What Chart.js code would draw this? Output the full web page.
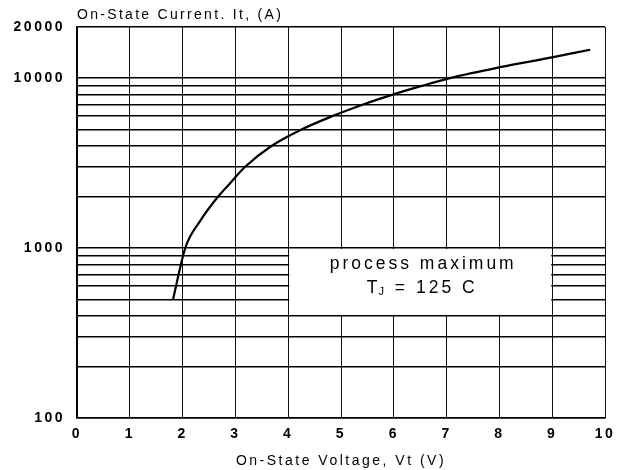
<!DOCTYPE html>
<html>
<head>
<meta charset="utf-8">
<script src="https://cdn.jsdelivr.net/npm/chart.js@4.4.0/dist/chart.umd.min.js"></script>
<style>
    html, body { margin: 0; padding: 0; background: #fff; }
    #wrap { width: 617px; height: 470px; }
</style>
</head>
<body>
<div id="wrap"><canvas id="ivChart"></canvas></div>
<script>
// on-state voltage (V) vs on-state current (A)
const voltage = [1.82, 2.05, 2.33, 2.65, 2.9, 3.18, 3.69, 4.26, 4.85, 5.42, 5.98, 6.53, 7.06, 8.01, 9.02, 9.72];
const current = [500, 1000, 1440, 1970, 2410, 3000, 4000, 5000, 6000, 7000, 8000, 9000, 10000, 11600, 13300, 14700];

const xTicks = [0, 1, 2, 3, 4, 5, 6, 7, 8, 9, 10];
const yTicks = [100, 200, 300, 400, 500, 600, 700, 800, 900,
    1000, 2000, 3000, 4000, 5000, 6000, 7000, 8000, 9000, 10000, 20000];
const yLabels = [100, 1000, 10000, 20000];

// white note box, in data units
const boxVolts = [4, 9];
const boxAmps = [400, 1000];
const boxLine1 = 'process maximum';
const boxLine2 = ['T', 'J', ' = 125 C'];

const yTitle = 'On-State Current. It, (A)';
const xTitle = 'On-State Voltage, Vt (V)';

const FONT = '"Liberation Sans", Arial, sans-serif';

const spacingPlugin = {
    id: 'spacing',
    beforeLayout(chart) { chart.ctx.letterSpacing = '2.5px'; },
    beforeDraw(chart) { chart.ctx.letterSpacing = '2.5px'; }
};

const notePlugin = {
    id: 'note',
    beforeDatasetsDraw(chart) {
        const ctx = chart.ctx;
        const x = chart.scales.x, y = chart.scales.y;
        const x1 = x.getPixelForValue(boxVolts[0]) + 1;
        const x2 = x.getPixelForValue(boxVolts[1]) - 1;
        const y1 = y.getPixelForValue(boxAmps[1]) + 1;
        const y2 = y.getPixelForValue(boxAmps[0]) - 1;
        ctx.save();
        ctx.fillStyle = '#fff';
        ctx.fillRect(x1, y1, x2 - x1, y2 - y1);

        const cx = (x1 + x2) / 2 + 3;
        ctx.fillStyle = '#000';
        ctx.letterSpacing = '3px';
        ctx.textBaseline = 'middle';
        ctx.textAlign = 'center';
        ctx.font = '17.5px ' + FONT;
        ctx.fillText(boxLine1, cx, y1 + 15);

        // T with subscript J
        ctx.textAlign = 'left';
        const big = '17.5px ' + FONT, small = '11px ' + FONT;
        ctx.font = big;
        const wT = ctx.measureText(boxLine2[0]).width;
        const wR = ctx.measureText(boxLine2[2]).width;
        ctx.font = small;
        const wJ = ctx.measureText(boxLine2[1]).width;
        let px = cx - (wT + wJ + wR) / 2;
        const ly = y1 + 39;
        ctx.font = big;
        ctx.fillText(boxLine2[0], px, ly);
        px += wT - 2;
        ctx.font = small;
        ctx.fillText(boxLine2[1], px, ly + 4);
        px += wJ;
        ctx.font = big;
        ctx.fillText(boxLine2[2], px, ly);
        ctx.restore();
    },
    afterDraw(chart) {
        const ctx = chart.ctx;
        ctx.save();
        ctx.letterSpacing = '2.3px';
        ctx.fillStyle = '#000';
        ctx.font = '14px ' + FONT;
        ctx.textAlign = 'left';
        ctx.textBaseline = 'middle';
        ctx.fillText(yTitle, chart.chartArea.left, 15);
        ctx.restore();
    }
};

const points = voltage.map((v, i) => ({ x: v, y: current[i] }));

new Chart(document.getElementById('ivChart'), {
    type: 'line',
    data: {
        datasets: [{
            data: points,
            borderColor: '#000',
            borderWidth: 2.2,
            pointRadius: 0,
            tension: 0.4,
            cubicInterpolationMode: 'monotone',
            fill: false
        }]
    },
    options: {
        responsive: true,
        maintainAspectRatio: false,
        animation: false,
        layout: { padding: { top: 27, right: 0, left: 0, bottom: 0 } },
        plugins: {
            legend: { display: false },
            tooltip: { enabled: false }
        },
        scales: {
            x: {
                type: 'linear',
                min: 0,
                max: 10,
                afterBuildTicks: (scale) => { scale.ticks = xTicks.map(v => ({ value: v })); },
                afterFit: (scale) => {
                    scale.height = 52;
                    scale.paddingLeft = 0;
                    scale.paddingRight = 12;
                },
                grid: { color: '#111', lineWidth: 1, drawTicks: false },
                border: { color: '#000', width: 1.5 },
                ticks: {
                    color: '#000',
                    padding: 8,
                    font: { family: FONT, size: 14, weight: 'bold' }
                },
                title: {
                    display: true,
                    text: xTitle,
                    color: '#000',
                    padding: { top: 6, bottom: 0 },
                    font: { family: FONT, size: 14 }
                }
            },
            y: {
                type: 'logarithmic',
                min: 100,
                max: 20000,
                afterBuildTicks: (scale) => { scale.ticks = yTicks.map(v => ({ value: v })); },
                afterFit: (scale) => { scale.width = 77; },
                grid: { color: '#000', lineWidth: 1.4, drawTicks: false },
                border: { color: '#000', width: 1.5 },
                ticks: {
                    color: '#000',
                    padding: 12,
                    autoSkip: false,
                    font: { family: FONT, size: 14, weight: 'bold' },
                    callback: (v) => yLabels.includes(v) ? String(v) : ''
                }
            }
        }
    },
    plugins: [spacingPlugin, notePlugin]
});
</script>
</body>
</html>
